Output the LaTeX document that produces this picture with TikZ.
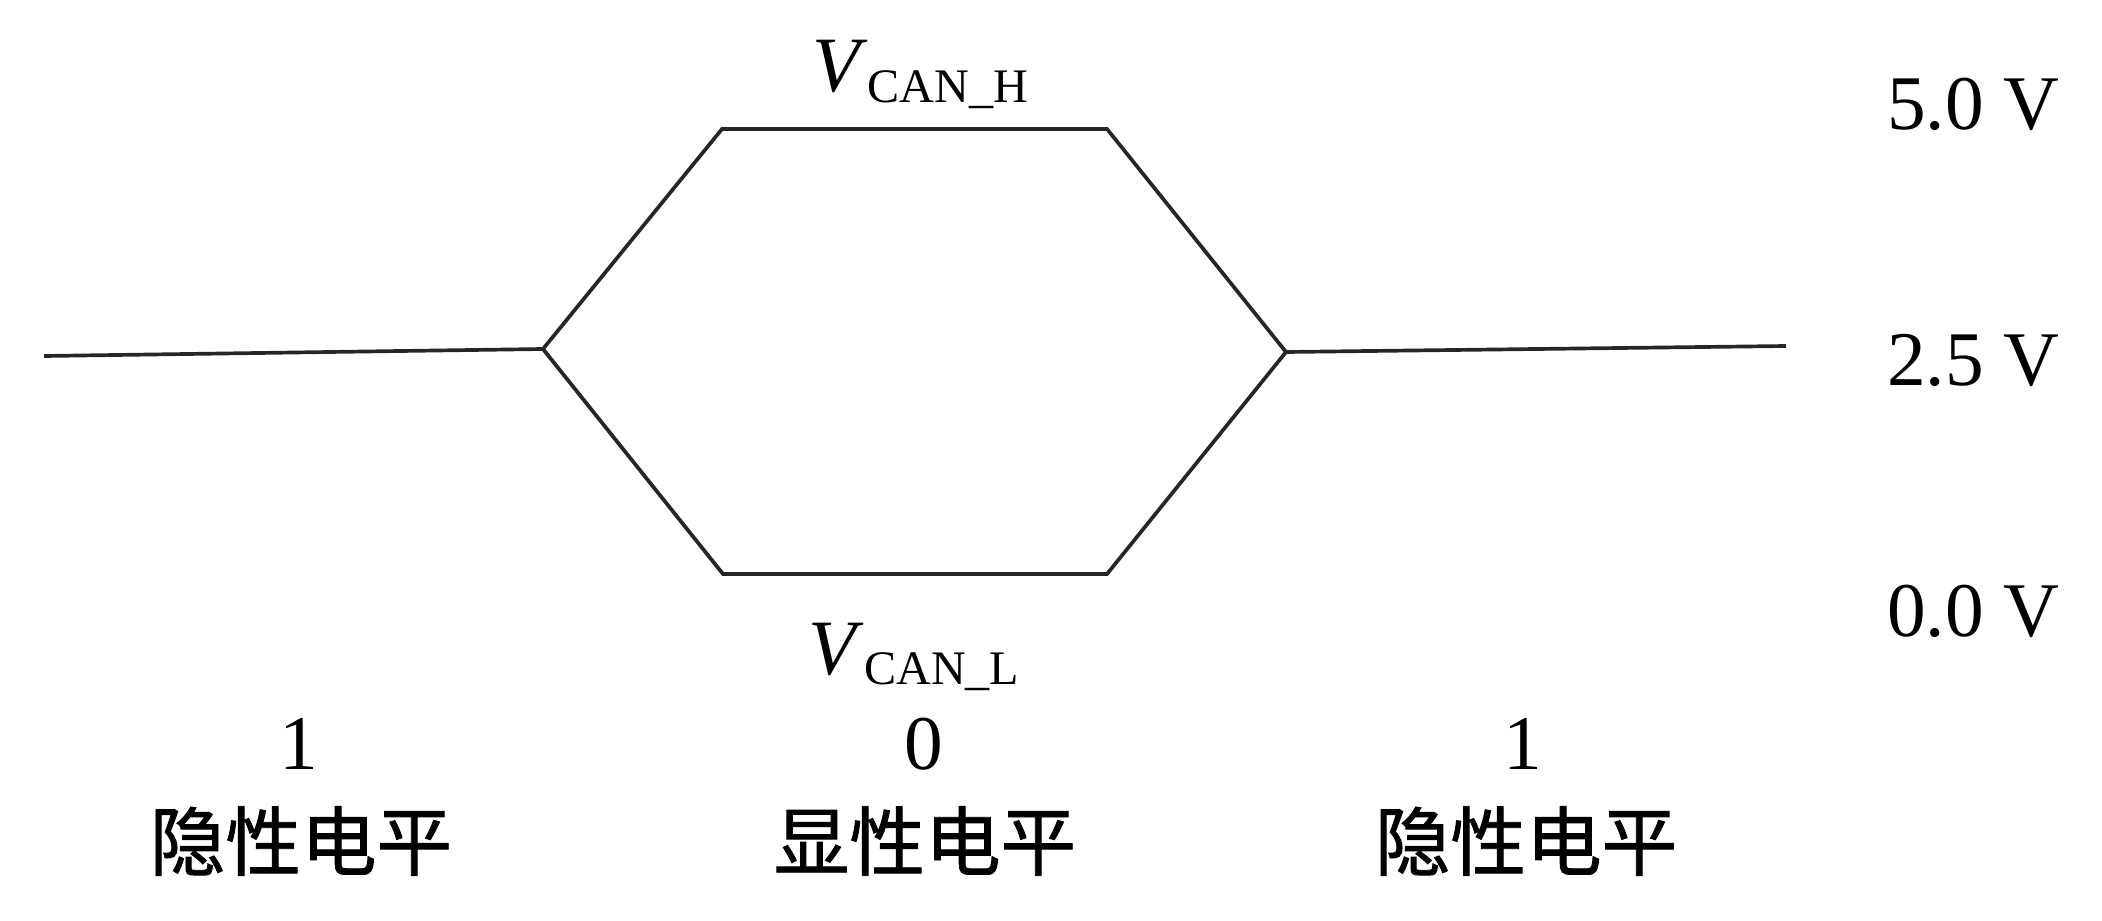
\documentclass[tikz,border=0pt]{standalone}
\usepackage{fontspec}
\setmainfont{Liberation Serif}
\newfontfamily\cjk[FakeBold=1.2]{Noto Sans CJK SC}
\usetikzlibrary{positioning}

\begin{document}
\begin{tikzpicture}[node distance=0.2cm, auto,
    wave/.style={draw, line width=1.05pt, black!85, line join=miter},
    volt/.style={anchor=base, inner sep=0pt, font=\fontsize{22}{26}\selectfont},
    bit/.style={anchor=base, inner sep=0pt, font=\fontsize{22}{26}\selectfont},
    level/.style={inner sep=0pt, font=\cjk\fontsize{21.5}{25}\selectfont},
    sig/.style={anchor=base, inner sep=0pt, font=\fontsize{22.3}{26}\selectfont}]

    \useasboundingbox (0,0) rectangle (21.02,9.2);

    % bus levels
    \coordinate (lstart) at (0.44,5.64);
    \coordinate (lv) at (5.43,5.71);
    \coordinate (tl) at (7.22,7.91);
    \coordinate (tr) at (11.07,7.91);
    \coordinate (rv) at (12.86,5.68);
    \coordinate (br) at (11.07,3.46);
    \coordinate (bl) at (7.23,3.46);
    \coordinate (rend) at (17.86,5.74);

    \path [wave] (lstart) -- (lv);
    \path [wave] (lv) -- (tl) -- (tr) -- (rv) -- (br) -- (bl) -- cycle;
    \path [wave] (rv) -- (rend);

    \node [sig] (canh) at (9.20,8.28) {\textit{V}\raisebox{-3pt}{\fontsize{13.7}{16}\selectfont CAN\_H}};
    \node [sig] (canl) at (9.14,2.46) {\textit{V}\raisebox{-3pt}{\fontsize{13.7}{16}\selectfont CAN\_L}};

    \node [volt] (v5) at (19.73,7.90) {5.0 V};
    \node [volt] (v25) at (19.73,5.35) {2.5 V};
    \node [volt] (v0) at (19.73,2.84) {0.0 V};

    \node [bit] (b1) at (2.99,1.51) {1};
    \node [bit] (b0) at (9.24,1.51) {0};
    \node [bit] (b2) at (15.23,1.51) {1};

    \node [level] (rec1) at (3.01,0.79) {隐性电平};
    \node [level] (dom) at (9.25,0.79) {显性电平};
    \node [level] (rec2) at (15.26,0.79) {隐性电平};
\end{tikzpicture}
\end{document}
